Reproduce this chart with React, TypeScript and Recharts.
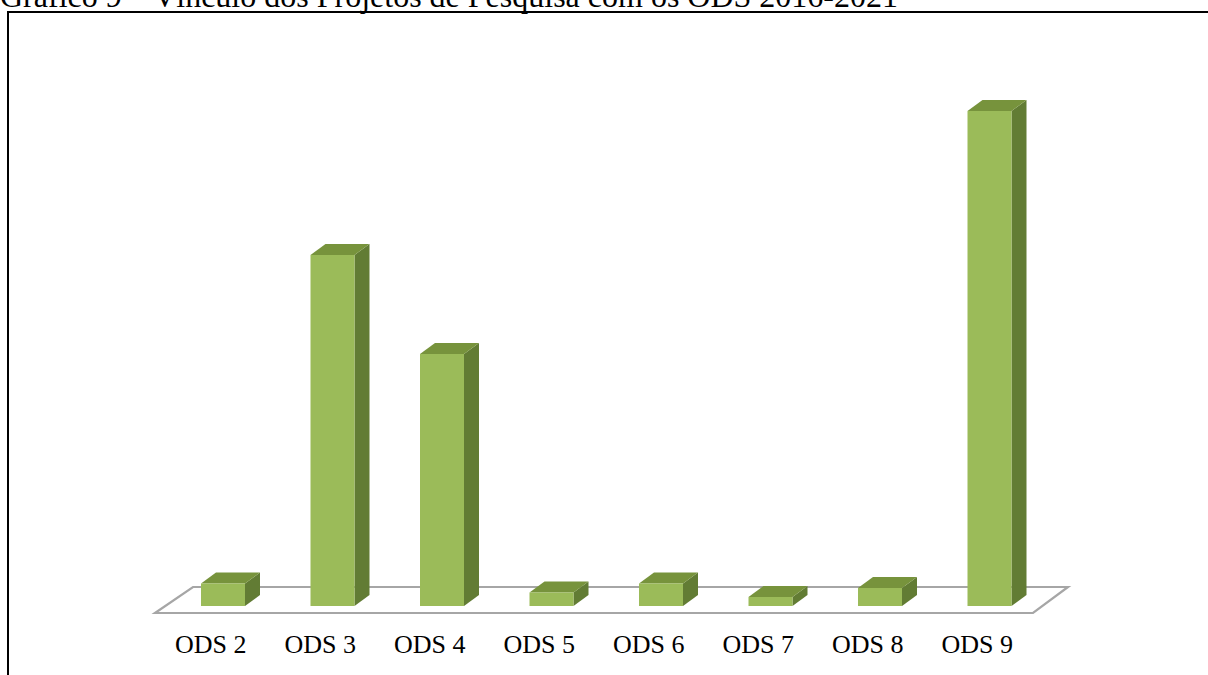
import React from "react";
import { BarChart, Bar, XAxis, YAxis } from "recharts";

// Projetos de pesquisa por ODS (2016-2021)
const categories = ["ODS 2", "ODS 3", "ODS 4", "ODS 5", "ODS 6", "ODS 7", "ODS 8", "ODS 9"];
const projetos = [5, 78, 56, 3, 5, 2, 4, 110];

const data = categories.map((ods, i) => ({ ods, projetos: projetos[i] }));

const W = 1208;
const H = 675;
const margin = { top: 66, right: 164, bottom: 29, left: 168 };
const xAxisHeight = 40;
const plotLeft = margin.left;
const plotRight = W - margin.right;
const plotBottom = H - margin.bottom - xAxisHeight;

const FRONT = "#9BBB59";
const TOP = "#77933C";
const SIDE = "#627C34";
const DX = 15;
const DY = 11;
const FONT = "'Liberation Serif', 'Times New Roman', serif";

// 3D-looking column: front face, top face and right side face
const Column3D = (props: any) => {
  const { x, y, width, height } = props;
  if (width == null || height == null) return null;
  const r = x + width;
  const b = y + height;
  return (
    <g>
      <polygon
        points={`${r},${y} ${r + DX},${y - DY} ${r + DX},${b - DY} ${r},${b}`}
        fill={SIDE}
      />
      <polygon
        points={`${x},${y} ${x + DX},${y - DY} ${r + DX},${y - DY} ${r},${y}`}
        fill={TOP}
      />
      <rect x={x} y={y} width={width} height={height} fill={FRONT} />
    </g>
  );
};

// Category labels sit slightly left of the columns, following the floor's perspective
const CategoryTick = (props: any) => {
  const { x, payload } = props;
  return (
    <text
      x={x - 12}
      y={plotBottom + 47}
      textAnchor="middle"
      style={{ fontFamily: FONT, fontSize: 26 }}
      fill="#000"
    >
      {payload.value}
    </text>
  );
};

// Floor plane, title and frame drawn behind the columns
const Backdrop = () => {
  const pts = [
    [plotLeft - 13, plotBottom + 7],
    [plotRight - 11, plotBottom + 7],
    [plotRight + 24, plotBottom - 19],
    [plotLeft + 25, plotBottom - 19],
  ]
    .map((p) => p.join(","))
    .join(" ");
  return (
    <svg width={W} height={H} style={{ position: "absolute", left: 0, top: 0 }}>
      <text x={0} y={7} style={{ fontFamily: FONT, fontSize: 32 }} fill="#000">
        Gráfico 9 – Vínculo dos Projetos de Pesquisa com os ODS 2016-2021
      </text>
      <path d={`M8,${H} L8,12 L${W},12`} fill="none" stroke="#000" strokeWidth={2} />
      <polygon points={pts} fill="none" stroke="#A6A6A6" strokeWidth={2.2} />
    </svg>
  );
};

export default function App() {
  return (
    <div
      style={{
        position: "absolute",
        left: 0,
        top: 0,
        width: W,
        height: H,
        overflow: "hidden",
        background: "#fff",
      }}
    >
      <Backdrop />
      <div style={{ position: "absolute", left: 0, top: 0 }}>
        <BarChart width={W} height={H} data={data} margin={margin}>
          <XAxis
            dataKey="ods"
            axisLine={false}
            tickLine={false}
            height={xAxisHeight}
            tick={<CategoryTick />}
            interval={0}
          />
          <YAxis hide domain={[0, 120]} />
          <Bar
            dataKey="projetos"
            barSize={44}
            shape={<Column3D />}
            isAnimationActive={false}
          />
        </BarChart>
      </div>
    </div>
  );
}
